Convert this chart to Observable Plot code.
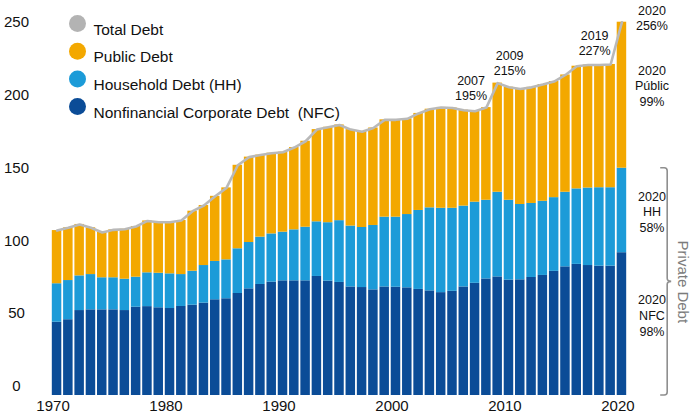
<!DOCTYPE html>
<html><head><meta charset="utf-8">
<script src="https://cdn.jsdelivr.net/npm/d3@7"></script>
<script src="https://cdn.jsdelivr.net/npm/@observablehq/plot@0.6"></script>
<style>
body{margin:0;background:#fff}
#chart svg{display:block;font-family:"Liberation Sans",Arial,sans-serif}
#chart text{white-space:pre}
</style>
</head><body><div id="chart"></div>
<script>
const years = [1970,1971,1972,1973,1974,1975,1976,1977,1978,1979,1980,1981,1982,1983,1984,1985,1986,1987,1988,1989,1990,1991,1992,1993,1994,1995,1996,1997,1998,1999,2000,2001,2002,2003,2004,2005,2006,2007,2008,2009,2010,2011,2012,2013,2014,2015,2016,2017,2018,2019,2020];
const nfc = [50.3,52.0,58.3,58.8,58.8,58.8,58.3,60.6,61.0,60.2,59.7,61.1,62.0,63.4,65.7,66.4,70.0,73.2,76.2,77.8,78.7,78.7,78.7,81.7,78.5,77.6,74.5,74.1,72.5,74.5,74.3,73.9,72.8,71.8,70.6,71.5,74.5,77.0,80.0,81.4,79.2,79.4,81.0,82.4,85.2,88.3,90.0,89.2,88.8,88.8,98.0];
const household = [26.4,26.9,23.8,24.2,22.0,22.0,21.5,20.6,23.2,23.7,23.8,21.9,23.3,25.8,26.3,26.7,30.7,31.8,32.5,33.1,33.4,35.0,36.8,37.5,40.1,42.4,41.8,41.2,44.2,47.9,48.1,50.3,54.2,57.0,57.9,57.0,55.5,55.7,54.0,58.1,54.8,51.7,50.8,50.9,50.6,51.2,51.8,53.2,53.8,53.8,58.0];
const publicDebt = [36.5,36.2,35.3,32.1,31.1,32.9,34.3,34.8,35.6,35.0,35.4,37.1,41.2,41.2,44.7,49.4,57.3,58.6,56.3,55.4,54.9,56.5,59.0,63.3,65.5,65.7,66.2,65.7,66.9,66.8,66.8,65.7,66.6,67.7,69.2,68.8,65.8,62.4,63.6,74.9,77.6,79.3,79.7,80.1,79.7,80.5,84.2,84.4,84.2,84.6,100.2];

const seriesKeys = ["NFC","HH","Public"];
const seriesColors = ["#0b4c97","#1c9bd8","#f3a800"];
const totalColor = "#b9b9b9";

const legendLabels = ["Total Debt","Public Debt","Household Debt (HH)","Nonfinancial Corporate Debt  (NFC)"];
const legendColors = ["#b3b3b3","#f3a800","#1c9bd8","#0b4c97"];

const yTicks = [0,50,100,150,200,250];
const xTicks = [1970,1980,1990,2000,2010,2020];

const callouts = [
  {year:2007, text:"2007\n195%", dx:-4, dy:-11},
  {year:2009, text:"2009\n215%", dx:12, dy:-8},
  {year:2019, text:"2019\n227%", dx:-16, dy:-9},
  {year:2020, text:"2020\n256%", dx:30, dy:8}
];
const sideLabels = [
  {key:"Public", text:"2020\nPúblic\n99%", dy:-10},
  {key:"HH", text:"2020\nHH\n58%", dy:1},
  {key:"NFC", text:"2020\nNFC\n98%", dy:-9}
];

const rows = [];
years.forEach((yr,i)=>{
  rows.push({year:yr, series:"NFC", value:nfc[i]});
  rows.push({year:yr, series:"HH", value:household[i]});
  rows.push({year:yr, series:"Public", value:publicDebt[i]});
});
const totals = years.map((yr,i)=>({year:yr, total: nfc[i]+household[i]+publicDebt[i]}));
const totalOf = yr => totals.find(d=>d.year===yr).total;
const last = years.length-1;
const segMid = {
  NFC: nfc[last]/2,
  HH: nfc[last] + household[last]/2,
  Public: nfc[last] + household[last] + publicDebt[last]/2
};
const privateTop = nfc[last] + household[last];

function bracket(index, scales) {
  const x = scales.x, y = scales.y;
  const bw = x.bandwidth ? x.bandwidth() : 9.6;
  const xr = x(2020) + bw + 41, xl = xr - 7;
  const yt = y(privateTop), yb = y(0), ym = (yt+yb)/2;
  const p = `M${xl},${yt}H${xr-3}Q${xr},${yt} ${xr},${yt+3}V${ym-3}Q${xr},${ym} ${xr+4},${ym}Q${xr},${ym} ${xr},${ym+3}V${yb-3}Q${xr},${yb} ${xr-3},${yb}H${xl}`;
  const path = d3.create("svg:path").attr("d", p).attr("fill","none").attr("stroke","#8f8f8f").attr("stroke-width",1.6);
  return path.node();
}

const legendMarks = legendLabels.flatMap((lab,i)=>[
  Plot.dot([lab], {frameAnchor:"top-left", dx:27, dy:1+i*27.7, r:8.5, fill:legendColors[i], stroke:null}),
  Plot.text([lab], {frameAnchor:"top-left", dx:43, dy:1+i*27.7, text:d=>d, textAnchor:"start", fontSize:15.5, fill:"#111"})
]);

const chart = Plot.plot({
  width: 694, height: 419,
  marginTop: 22, marginBottom: 24, marginLeft: 50, marginRight: 66,
  style: {fontFamily:"Liberation Sans, Arial, sans-serif", background:"#fff"},
  x: {type:"band", domain: years, padding: 0.16, round: false, axis: null},
  y: {domain:[0,256], axis: null},
  color: {domain: seriesKeys, range: seriesColors},
  marks: [
    Plot.barY(rows, {x:"year", y:"value", fill:"series", order: seriesKeys}),
    Plot.line(totals, {x:"year", y:"total", stroke: totalColor, strokeWidth:2.6}),
    Plot.text(yTicks, {y:d=>d, frameAnchor:"left", dx:-34, dy:-9, text:d=>String(d), textAnchor:"middle", fontSize:15, fill:"#111"}),
    Plot.text(xTicks, {x:d=>d, frameAnchor:"bottom", dy:15, dx:-4, text:d=>String(d), fontSize:15, fill:"#111"}),
    ...callouts.map(c => Plot.text([c], {x:"year", y:d=>totalOf(d.year), text:"text", dx:c.dx, dy:c.dy, lineAnchor:"bottom", fontSize:12.5, lineHeight:1.2, fill:"#111", stroke:"white", strokeWidth:3})),
    ...sideLabels.map(s => Plot.text([s], {x:()=>2020, y:d=>segMid[d.key], text:"text", dx:30, dy:s.dy, fontSize:12.5, lineHeight:1.25, fill:"#111"})),
    bracket,
    Plot.text(["Private Debt"], {x:()=>2020, y:()=>privateTop/2, text:d=>d, dx:61, rotate:90, fontSize:15, fill:"#7b7b7b"}),
    ...legendMarks
  ]
});
document.getElementById("chart").append(chart);
</script>
</body></html>
